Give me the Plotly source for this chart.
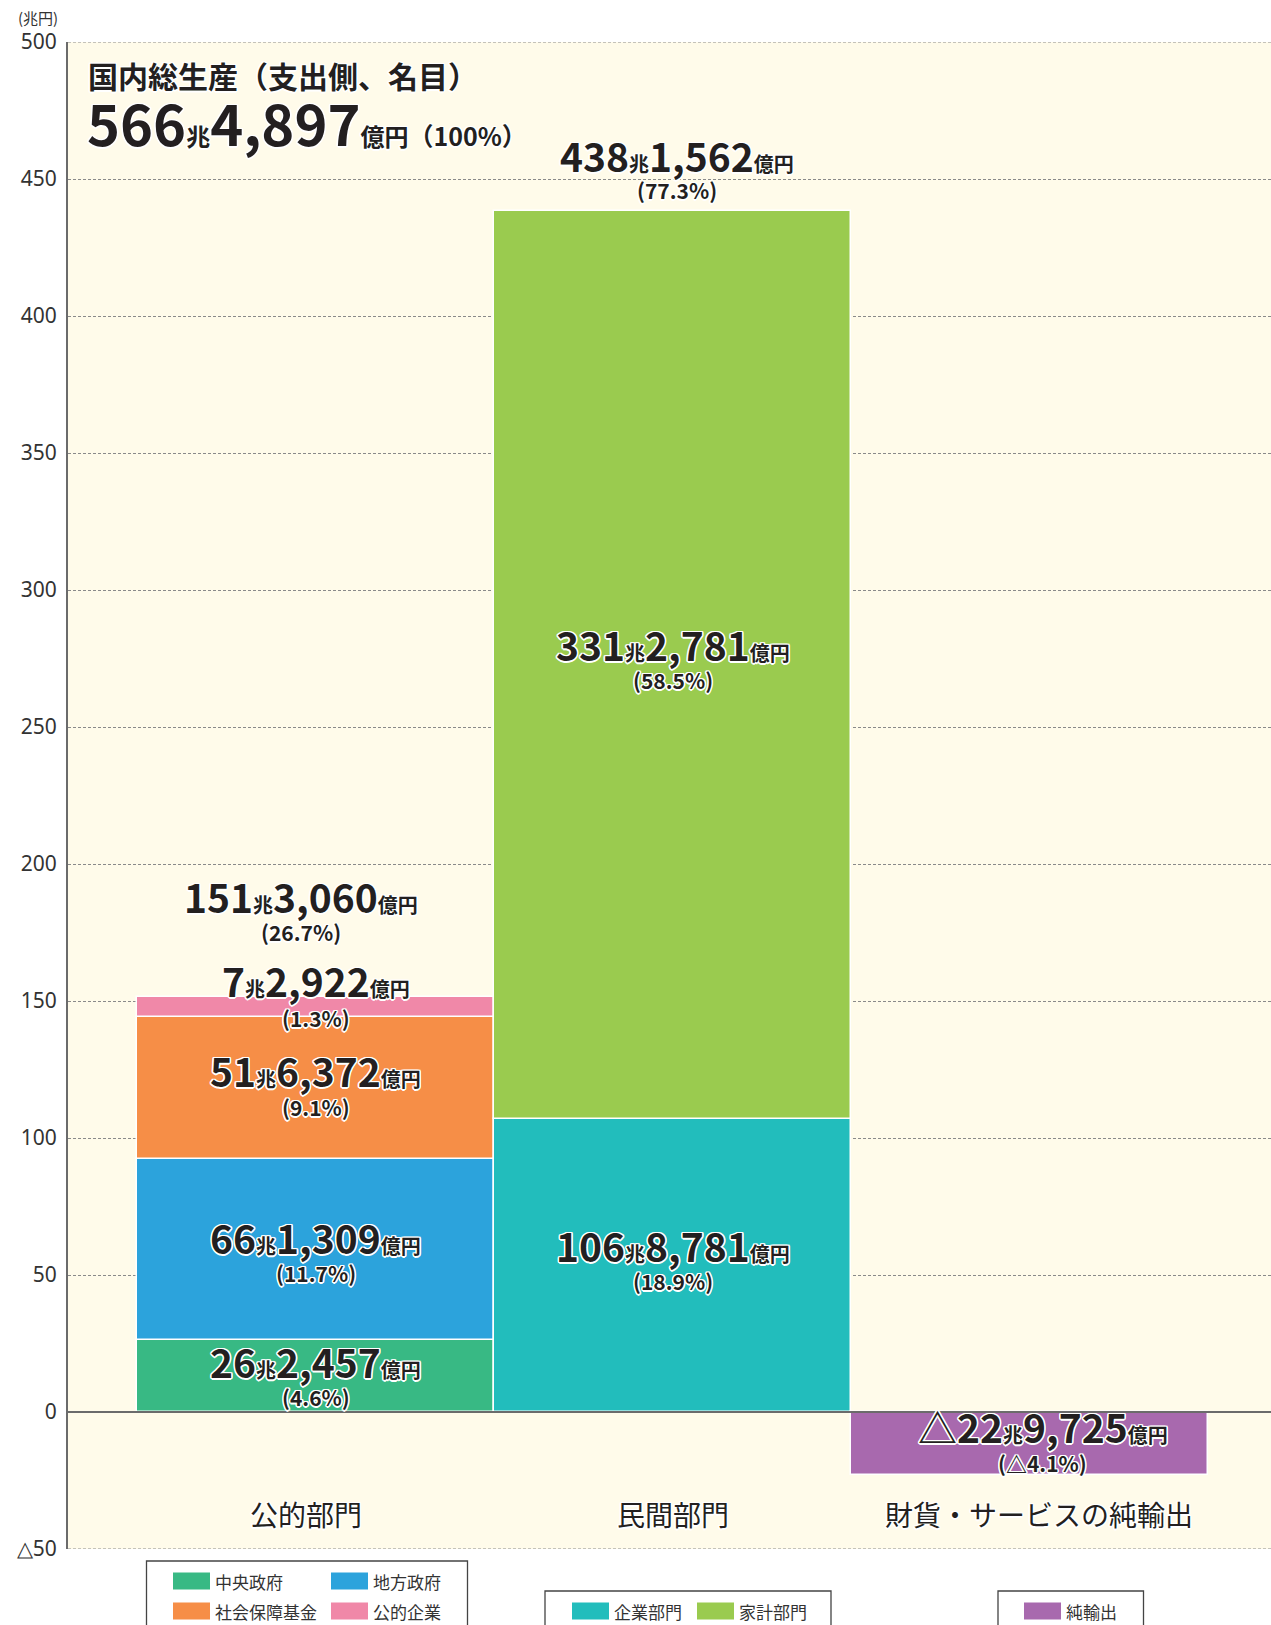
import plotly.graph_objects as go

# ---------------- data ----------------
categories = ["公的部門", "民間部門", "財貨・サービスの純輸出"]

segment_names = ["中央政府", "地方政府", "社会保障基金", "公的企業", "企業部門", "家計部門", "純輸出"]
segment_category = [0, 0, 0, 0, 1, 1, 2]
segment_values_oku = [262457, 661309, 516372, 72922, 1068781, 3312781, -229725]  # 億円
segment_pcts = [4.6, 11.7, 9.1, 1.3, 18.9, 58.5, -4.1]

total_category = [0, 1]
total_values_oku = [1513060, 4381562]
total_pcts = [26.7, 77.3]

gdp_value_oku = 5664897
gdp_pct = 100
gdp_title = "国内総生産（支出側、名目）"

y_tickvals = [-50, 0, 50, 100, 150, 200, 250, 300, 350, 400, 450, 500]
y_ticktext = ["△50", "0", "50", "100", "150", "200", "250", "300", "350", "400", "450", "500"]
y_unit = "(兆円)"

# ---------------- style ----------------
segment_colors = ["#38B984", "#2CA3DC", "#F68E47", "#F088A8", "#22BDBC", "#9ACB4F", "#A869AE"]
# label pixel offsets (main label, percentage label) relative to segment middle
seg_main_shift = [15, 12, 18, 27, 21, 21, 17]
seg_pct_shift = [-21, -24, -19, -11, -15, -15, -20]
seg_xshift = [0, 0, 0, 0, 0, 0, 13]
tot_main_shift = [101, 56]
tot_pct_shift = [65, 21]
tot_xshift = [-15, 4]
cat_xshift = [-10, 0, 9]

W, H = 1271, 1625
ML, MR, MT, MB = 68, 0, 42, 76
PW, PH = W - ML - MR, H - MT - MB

FONT = "Noto Sans CJK JP, Noto Sans, sans-serif"
TXT = "#231F20"
OUTLINE = ("1.5px 0 0 #fff, -1.5px 0 0 #fff, 0 1.5px 0 #fff, 0 -1.5px 0 #fff, "
           "1.2px 1.2px 0 #fff, -1.2px -1.2px 0 #fff, 1.2px -1.2px 0 #fff, -1.2px 1.2px 0 #fff")
GRID = "#8A8A8A"


def px_x(px):
    return (px - ML) / PW


def px_y(py):
    return (H - MB - py) / PH


def money(v, small=20):
    neg = v < 0
    a = abs(v)
    cho, oku = a // 10000, a % 10000
    s = "△" if neg else ""
    s += f"{cho}<span style='font-size:{small}px'>兆</span>{oku:,}<span style='font-size:{small}px'>億円</span>"
    return s


def pct(p):
    return f"({'△' if p < 0 else ''}{abs(p):.1f}%)"


fig = go.Figure()

for name, cat, val, col in zip(segment_names, segment_category, segment_values_oku, segment_colors):
    fig.add_trace(go.Bar(
        x=[cat], y=[val / 10000], name=name, width=1,
        marker=dict(color=col, line=dict(color="#ffffff", width=1.5)),
        showlegend=False, hoverinfo="name+y",
    ))

MAIN_SIZE, PCT_SIZE = 39, 21
annotations = []
pos_base = {0: 0.0, 1: 0.0}
for i, (cat, val, p) in enumerate(zip(segment_category, segment_values_oku, segment_pcts)):
    v = val / 10000
    if v >= 0:
        base = pos_base[cat]
        mid = base + v / 2
        pos_base[cat] = base + v
    else:
        mid = v / 2
    annotations.append(dict(x=cat, y=mid, xshift=seg_xshift[i], yshift=seg_main_shift[i], text=money(val),
                            showarrow=False, xanchor="center", yanchor="middle",
                            font=dict(family=FONT, size=MAIN_SIZE, color=TXT, weight="bold", shadow=OUTLINE)))
    annotations.append(dict(x=cat, y=mid, xshift=seg_xshift[i], yshift=seg_pct_shift[i], text=pct(p),
                            showarrow=False, xanchor="center", yanchor="middle",
                            font=dict(family=FONT, size=PCT_SIZE, color=TXT, weight="bold", shadow=OUTLINE)))

for i, (cat, val, p) in enumerate(zip(total_category, total_values_oku, total_pcts)):
    top = val / 10000
    annotations.append(dict(x=cat, y=top, xshift=tot_xshift[i], yshift=tot_main_shift[i], text=money(val),
                            showarrow=False, xanchor="center", yanchor="middle",
                            font=dict(family=FONT, size=MAIN_SIZE, color=TXT, weight="bold", shadow=OUTLINE)))
    annotations.append(dict(x=cat, y=top, xshift=tot_xshift[i], yshift=tot_pct_shift[i], text=pct(p),
                            showarrow=False, xanchor="center", yanchor="middle",
                            font=dict(family=FONT, size=PCT_SIZE, color=TXT, weight="bold", shadow=OUTLINE)))

# GDP header
annotations.append(dict(xref="paper", yref="paper", x=px_x(86), y=px_y(75), text=gdp_title,
                        showarrow=False, xanchor="left", yanchor="middle",
                        font=dict(family=FONT, size=30, color=TXT, weight="bold", shadow=OUTLINE)))
annotations.append(dict(xref="paper", yref="paper", x=px_x(85), y=px_y(121),
                        text=money(gdp_value_oku, small=24).replace(
                            "億円", "億円<span style='font-size:25px'>（" + str(gdp_pct) + "%）</span>"),
                        showarrow=False, xanchor="left", yanchor="middle",
                        font=dict(family=FONT, size=56, color=TXT, weight="bold", shadow=OUTLINE)))

# category labels
for i, c in enumerate(categories):
    annotations.append(dict(x=i, y=-37.3, xshift=cat_xshift[i], text=c, showarrow=False,
                            xanchor="center", yanchor="middle",
                            font=dict(family=FONT, size=28, color="#231F20", shadow=OUTLINE)))

# unit label
annotations.append(dict(xref="paper", yref="paper", x=px_x(16), y=px_y(18), text=y_unit,
                        showarrow=False, xanchor="left", yanchor="middle",
                        font=dict(family=FONT, size=15, color="#333333")))

shapes = []
# grid lines at the range edges
for yv in (y_tickvals[0], y_tickvals[-1]):
    shapes.append(dict(type="line", xref="paper", yref="y", x0=0, x1=1, y0=yv, y1=yv,
                       line=dict(color=GRID, width=1, dash="3px,2px"), layer="below"))
# zero line above bars
shapes.append(dict(type="line", xref="paper", yref="y", x0=0, x1=1, y0=0, y1=0,
                   line=dict(color="#6B6B6B", width=2), layer="above"))

# legends (boxes drawn manually)
legend_boxes = [
    dict(x0=146.5, x1=467.5, y0=1561, y1=1645,
         items=[(0, 173, 1581), (1, 331, 1581), (2, 173, 1611), (3, 331, 1611)]),
    dict(x0=545, x1=831, y0=1591, y1=1645, items=[(4, 572, 1611), (5, 697, 1611)]),
    dict(x0=998, x1=1143.5, y0=1591, y1=1645, items=[(6, 1024, 1611)]),
]
for b in legend_boxes:
    shapes.append(dict(type="rect", xref="paper", yref="paper",
                       x0=px_x(b["x0"]), x1=px_x(b["x1"]), y0=px_y(b["y0"]), y1=px_y(b["y1"]),
                       line=dict(color="#444444", width=1.3), fillcolor="rgba(0,0,0,0)"))
    for idx, sx, sy in b["items"]:
        shapes.append(dict(type="rect", xref="paper", yref="paper",
                           x0=px_x(sx), x1=px_x(sx + 37), y0=px_y(sy - 8.5), y1=px_y(sy + 8.5),
                           line=dict(width=0), fillcolor=segment_colors[idx]))
        annotations.append(dict(xref="paper", yref="paper", x=px_x(sx + 40), y=px_y(sy),
                                text=segment_names[idx], showarrow=False, xanchor="left", yanchor="middle",
                                font=dict(family=FONT, size=17, color="#333333")))

fig.update_layout(
    width=W, height=H,
    margin=dict(l=ML, r=MR, t=MT, b=MB, pad=0),
    paper_bgcolor="#FFFFFF",
    plot_bgcolor="#FFFBEA",
    barmode="relative",
    bargap=0,
    showlegend=False,
    font=dict(family=FONT, color="#333333"),
    xaxis=dict(range=[-0.694, 2.676], showgrid=False, zeroline=False, showticklabels=False,
               showline=False, ticks="", fixedrange=True),
    yaxis=dict(range=[-50, 500], tickvals=y_tickvals, ticktext=y_ticktext,
               showgrid=True, gridcolor=GRID, gridwidth=1, griddash="3px,2px",
               zeroline=False, showline=True, linecolor="#6B6B6B", linewidth=2,
               ticks="", ticklabelstandoff=5,
               tickfont=dict(family="Noto Sans, sans-serif", size=21, color="#333333")),
    annotations=annotations,
    shapes=shapes,
)

fig.write_html(
    "out.html",
    config={"displayModeBar": False},
    post_script="document.body.style.margin='0';document.body.style.padding='0';"
                "document.body.style.overflow='hidden';",
)
